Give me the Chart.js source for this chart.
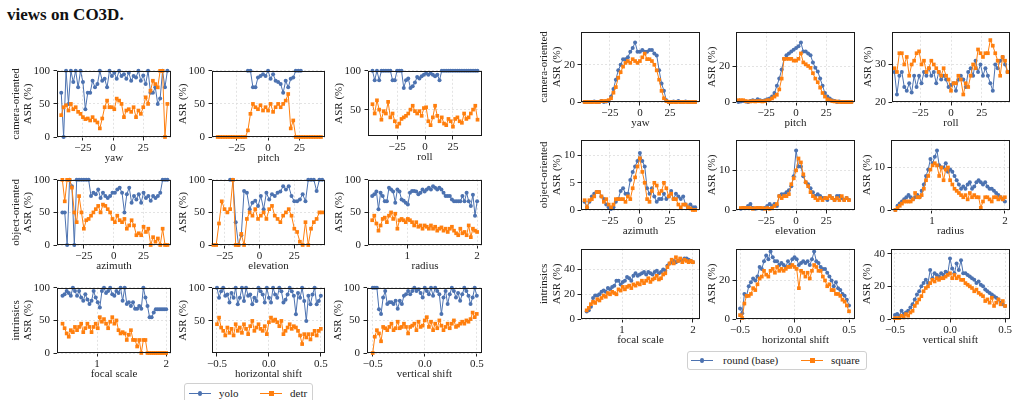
<!DOCTYPE html>
<html>
<head>
<meta charset="utf-8">
<script src="https://cdn.jsdelivr.net/npm/chart.js@4.4.1/dist/chart.umd.min.js"></script>
<style>
  body { margin: 0; width: 1018px; height: 400px; overflow: hidden; position: relative; background: #fff;
         font-family: 'Liberation Serif', 'DejaVu Serif', serif; color: #222; }
  canvas { position: absolute; }
  .titulo { position: absolute; left: 7px; top: 6px; font-size: 17px; font-weight: bold; line-height: 17px; color: #111; }
  .legend { position: absolute; background: #fff; border: 1px solid #d0d0d0; border-radius: 3px; font-size: 11px; }
  .legend i { position: absolute; display: block; }
  .legend span { position: absolute; line-height: 12px; white-space: nowrap; }
</style>
</head>
<body>
<div class="titulo">views on CO3D.</div>

<div class="legend" style="left:184px;top:383px;width:127px;height:24px">
  <i style="left:4px;top:8.5px;width:22px;height:1.2px;background:#4c72b0"></i>
  <i style="left:12.5px;top:7px;width:4.5px;height:4.5px;border-radius:50%;background:#4c72b0"></i>
  <span style="left:34px;top:3px">yolo</span>
  <i style="left:75px;top:8.5px;width:22px;height:1.2px;background:#ff7f0e"></i>
  <i style="left:83.5px;top:6.5px;width:5px;height:5px;background:#ff7f0e"></i>
  <span style="left:105px;top:3px">detr</span>
</div>

<div class="legend" style="left:687px;top:351px;width:178px;height:17px">
  <i style="left:3px;top:7.5px;width:22px;height:1.2px;background:#4c72b0"></i>
  <i style="left:11.5px;top:6px;width:4.5px;height:4.5px;border-radius:50%;background:#4c72b0"></i>
  <span style="left:35px;top:2px">round (base)</span>
  <i style="left:113px;top:7.5px;width:22px;height:1.2px;background:#ff7f0e"></i>
  <i style="left:121.5px;top:5.5px;width:5px;height:5px;background:#ff7f0e"></i>
  <span style="left:143px;top:2px">square</span>
</div>

<script>
// ---- eixos x (valores de cada experimento) ----
const angleX = [-43,-41,-39,-37,-35,-33,-31,-29,-27,-25,-23,-21,-19,-17,-15,-13,-11,-9,-7,-5,-3,-1,1,3,5,7,9,11,13,15,17,19,21,23,25,27,29,31,33,35,37,39,41,43,45];
const pitchX = [-40,-38,-36,-34,-32,-30,-28,-26,-24,-22,-20,-18,-16,-14,-12,-10,-8,-6,-4,-2,0,2,4,6,8,10,12,14,16,18,20,22,24,26,28,30,32,34,36,38,40,42];
const rollX = [-47,-45,-43,-41,-39,-37,-35,-33,-31,-29,-27,-25,-23,-21,-19,-17,-15,-13,-11,-9,-7,-5,-3,-1,1,3,5,7,9,11,13,15,17,19,21,23,25,27,29,31,33,35,37,39,41,43,45,47];
const elevX = [-33,-31,-29,-27,-25,-23,-21,-19,-17,-15,-13,-11,-9,-7,-5,-3,-1,1,3,5,7,9,11,13,15,17,19,21,23,25,27,29,31,33,35,37,39,41,43,45];
const scaleX = [0.5,0.53,0.56,0.59,0.62,0.65,0.68,0.71,0.74,0.77,0.8,0.83,0.86,0.89,0.92,0.95,0.98,1.01,1.04,1.07,1.1,1.13,1.16,1.19,1.22,1.25,1.28,1.31,1.34,1.37,1.4,1.43,1.46,1.49,1.52,1.55,1.58,1.61,1.64,1.67,1.7,1.73,1.76,1.79,1.82,1.85,1.88,1.91,1.94,1.97,2.0];
const shiftX = [-0.5,-0.48,-0.46,-0.44,-0.42,-0.4,-0.38,-0.36,-0.34,-0.32,-0.3,-0.28,-0.26,-0.24,-0.22,-0.2,-0.18,-0.16,-0.14,-0.12,-0.1,-0.08,-0.06,-0.04,-0.02,0,0.02,0.04,0.06,0.08,0.1,0.12,0.14,0.16,0.18,0.2,0.22,0.24,0.26,0.28,0.3,0.32,0.34,0.36,0.38,0.4,0.42,0.44,0.46,0.48,0.5];
const angleXR = [-46,-44,-42,-40,-38,-36,-34,-32,-30,-28,-26,-24,-22,-20,-18,-16,-14,-12,-10,-8,-6,-4,-2,0,2,4,6,8,10,12,14,16,18,20,22,24,26,28,30,32,34,36,38,40,42,44,46];
const pitchXR = [-48,-46,-44,-42,-40,-38,-36,-34,-32,-30,-28,-26,-24,-22,-20,-18,-16,-14,-12,-10,-8,-6,-4,-2,0,2,4,6,8,10,12,14,16,18,20,22,24,26,28,30,32,34,36,38,40,42,44,46];
const elevXR = [-46,-44,-42,-40,-38,-36,-34,-32,-30,-28,-26,-24,-22,-20,-18,-16,-14,-12,-10,-8,-6,-4,-2,0,2,4,6,8,10,12,14,16,18,20,22,24,26,28,30,32,34,36,38,40,42,44];

// ---- grupo da esquerda: yolo x detr (ASR %) ----
const yawYolo = [67,0,100,50,100,83,100,75,100,83,42,67,67,85,75,80,100,85,88,75,100,92,97,88,100,92,95,88,97,85,92,90,100,85,93,80,100,67,67,75,50,58,100,75,100];
const yawDetr = [33,45,48,40,50,42,45,38,35,30,27,28,25,30,25,22,13,28,45,55,45,45,42,58,55,50,30,40,42,38,45,30,40,35,45,60,50,70,85,80,75,100,100,0,50];
const pitchYolo = [null,null,null,null,null,null,null,null,null,null,null,null,100,100,75,75,90,92,95,92,100,88,95,85,83,80,67,85,75,88,90,100,100,100,null,null,null,null,null,null,null,null];
const pitchDetr = [0,0,0,0,0,0,0,0,0,0,0,0,10,35,50,45,42,48,40,45,40,50,38,45,50,45,50,55,65,13,25,0,0,0,0,0,0,0,0,0,0,0];
const rollYolo = [100,88,100,88,100,100,100,100,100,88,88,100,100,100,78,88,90,78,80,85,92,90,93,95,97,95,97,95,93,95,88,100,100,100,100,100,100,100,100,100,100,100,100,100,100,100,100,100];
const rollDetr = [57,45,62,50,37,48,45,60,40,45,35,28,32,38,40,42,45,50,55,48,45,48,42,52,53,35,30,40,55,42,35,40,32,30,38,35,28,38,40,35,33,45,38,40,45,50,55,37];
const azimuthYolo = [50,50,0,100,90,0,100,100,100,100,100,100,75,80,78,85,72,80,75,72,75,80,80,85,88,80,50,78,88,65,75,70,78,65,80,72,75,68,75,72,75,80,100,100,100];
const azimuthDetr = [100,67,100,100,88,50,35,75,50,25,38,40,45,50,55,60,50,62,60,55,50,40,35,45,38,35,40,25,30,38,30,15,18,15,28,20,25,0,12,5,10,0,25,0,0];
const elevationYolo = [null,null,null,null,null,null,100,100,35,0,15,83,80,55,65,68,60,75,55,80,70,78,75,80,82,90,85,90,75,67,67,70,78,67,100,100,100,83,100,100];
const elevationDetr = [0,0,33,67,55,50,55,100,0,0,17,0,40,50,45,55,40,45,50,40,55,60,45,40,35,45,50,55,45,25,20,5,0,35,0,25,35,40,50,50];
const radiusYolo = [75,78,82,55,80,75,67,67,88,85,82,65,85,82,70,68,65,62,80,83,83,82,78,80,85,82,85,88,85,90,88,85,88,85,80,75,75,75,70,67,67,67,67,75,67,80,67,60,77,45,67];
const radiusDetr = [38,45,33,22,30,40,42,35,45,50,40,48,25,38,40,38,35,40,38,35,30,35,28,30,25,30,28,25,30,25,28,22,25,27,22,25,20,25,28,22,18,15,25,18,20,15,30,12,25,22,20];
const focalYolo = [88,90,95,92,88,100,95,88,95,85,80,90,82,75,80,95,85,78,70,95,100,92,95,100,90,88,95,92,100,80,100,75,78,72,78,68,68,72,68,100,85,72,55,55,62,67,67,67,67,67,67];
const focalDetr = [45,38,30,25,35,32,40,35,40,45,32,38,45,40,32,40,45,38,55,48,52,45,38,48,55,45,50,35,30,32,30,20,28,35,20,20,10,20,0,20,20,0,0,0,0,0,0,0,0,0,0];
const hshiftYolo = [100,85,95,100,88,90,78,92,85,100,75,85,100,80,100,88,90,75,85,80,100,95,90,78,100,85,78,100,90,85,100,95,78,82,90,100,95,88,60,92,85,100,80,50,88,75,90,100,75,80,88];
const hshiftDetr = [45,55,40,35,28,40,32,38,28,45,35,40,32,45,38,30,42,50,35,40,45,38,35,42,30,48,55,50,52,48,42,50,30,35,40,45,38,42,40,35,28,15,30,25,30,22,30,35,28,35,38];
const vshiftYolo = [100,100,100,67,60,85,95,75,78,78,75,80,68,80,75,88,90,95,90,95,100,95,98,92,85,100,95,90,100,88,100,95,90,60,85,95,75,90,100,95,85,92,80,90,100,95,88,75,85,100,88];
const vshiftDetr = [0,25,35,30,18,40,38,35,40,45,35,38,48,38,40,45,40,30,40,42,45,35,48,40,42,50,55,40,48,35,45,38,50,42,35,40,45,38,45,50,40,42,45,48,45,50,48,52,62,55,60];

// ---- grupo da direita: round (base) x square (ASR %) ----
const yawRound = [0,0,0,0,0.3,0,0,0.5,0,0.3,0.5,3,7,12,17,20,23,23,24,27,29,32,27,27,28,27,27,28,28,26,25,17,10,6,1,0,0,0.3,0,0.5,0,0,0.3,0,0,0,0];
const yawSquare = [0,0,0,0,0,0,0,0.5,0.5,0.5,1,2,5,8,13,16,19,21,22,21,23,22,21,22,24,26,23,23,22,20,17,12,6,2,0.5,0,0,0,0,0,0,0,0,0,0,0,0];
const pitchRound = [0,0.3,0.5,0.3,0,0.5,1,0.5,1.5,1,0.5,1,1.5,2,3,5,9,13,18,24,26,27,28,29,30,31,33,28,28,27,26,22,19,17,13,9,5,3,2,1,0.5,0,0.3,0,0,0,0,0];
const pitchSquare = [1,1,1,0.5,0.3,0.3,0.5,0.3,0.5,0.5,0.3,0.5,1,1,2,3,4,7,13,24,24,24,24,23,23,24,27,22,21,20,19,16,13,11,8,5,3,1.5,1,0.5,0.3,0.3,0,0,0,0,0,0];
const rollRound = [28,22,27,28,24,23,25,22.5,27,24,27,25,28,27,29,27,28,25,28,26,27,26,24,24.5,25,23,26,27,26,24,28,29,27,31,28,30,27,29,27,25,23,30,29,31,32,30,28];
const rollSquare = [29,28,33,33,30,32,27,30,31,33,33.5,30,31,28,29,31,30,29,28,27,29,27,26,23,25,25,27,26,22,25,24,27,30,29,34,33,32,33,33,36.5,35,33,31,27,32,31,28];
const azimuthRound = [1.5,0.5,1.5,2.5,3,3.3,3.3,2.5,2,1,0.5,0.2,0.5,1.5,2,3.5,4,3,3,5.5,7,8,9,10.5,9,8,4,3,4,2.5,1.5,2,2,3,2,2.5,3.5,2,3,2.5,2,2.5,1,0.5,1,0.5,0.5];
const azimuthSquare = [1.8,0.5,1.8,2,2.5,3.3,3.3,2.5,1.5,2,1,0.5,1,2,2,2,2,1.5,2.5,2,4,6,8,9.5,7,5,2,1.5,3.5,5,4.5,3,3.5,5,4,2.5,3,2,2,1,0.5,1,1,0.5,0.3,0,0];
const elevationRound = [0.3,0.5,0.5,1,1.5,0.5,0.3,0.5,0.5,0.3,0.5,1,1.5,1,1.5,1,3.5,4,4,4.5,5,6,8.5,15,11,11,8.5,7,6.5,5.5,4.5,3.5,4,3.5,3,3,2.5,3.5,3,2.5,3.5,3.5,3,2.5,3,2.5];
const elevationSquare = [0.5,0.5,0.5,0.5,0.5,0.3,0.5,0.5,0.5,0.5,0.3,0.5,0.3,0.5,1,1.5,3.5,3,3.5,3.5,4,6.5,8,10,13,12,9,7,6,4.5,3.5,3,2.5,3,2.5,3,3,3.5,3,2.5,3,2.5,3.5,2.5,3,2.5];
const radiusRound = [0,1,1.5,2,2.5,3,3.5,3,2.5,3,3.5,3,4.5,6,8,9.5,12,11,12.5,14,10.5,10,10,11,9,9.5,9,8,7,6,5,5.5,5,6,6.5,5,5.5,6.5,7,6.5,6,6.5,5.5,5,5,4.5,4,3.5,3,2.5,2];
const radiusSquare = [0,0.5,1,1.5,2,2,2,2,2.5,4,3,3,3.5,5,7,8,9.5,10.5,11,10.5,8,10,7,9.5,10,7,6,5,4.5,4,3.5,3,3.5,2.5,4,3,3.5,3,3,0.5,2,3,3,2.5,2,3,3,2.5,3,2.5,3];
const focalRound = [6,7,10,17,19,19,20,22,23,22,25,24,26,27,31,31,28,30,31,34,33,31,35,37,35,36,37,38,36,38,37,36,38,39,37,38,40,39,43,45,46,47,46,47,48,47,49,49,48,47,46];
const focalSquare = [7,9,12,14,13,16,15,17,19,18,21,20,22,21,20,24,23,26,24,26,27,25,28,27,29,28,31,29,31,33,30,32,33,35,32,33,36,37,42,45,48,45,50,47,49,46,48,47,46,47,46];
const hshiftRound = [5.5,3,13,12,17,19,21,20,22,27,26,30,33,31,35,32,30,30,28,29,28,27,30,28,31,32,31,28,29,30,29,30,28,31,35,30,29,27,26,26,24,22,20,17,19,16,15,13,12,10,7];
const hshiftSquare = [2,0.5,8,12,12,13,16,15,18,21,22,25,23,22,25,26,24,27,25,26,25,26,27,27,28,27,26,16,25,24,22,24,21,25,28,27,25,25,22,20,17,18,15,15,13,13,12,10,9,7,4];
const vshiftRound = [2.5,3,2,5,3,4,5,7,9,12,15,17,20,22,24,22,30,25,28,27,26,28,27,29,28,37,31,28,34,30,36,28,28,27,26,25,24,22,23,21,20,18,17,16,15,14,13,12,10,9,8];
const vshiftSquare = [0.5,0.5,0.5,2,1,3,2,4,5,8,10,12,14,17,19,20,22,24,23,25,24,25,25,26,27,28,25,27,25,26,24,24,22,21,20,19,17,18,16,15,14,11,12,10,13,8,10,12,9,11,8];

// ---- tick labels ----
const angleTicks = [-25, 0, 25];
const scaleTicks = [1, 2];
const shiftTicks = [-0.5, 0, 0.5];

const BLUE = '#4c72b0';
const ORANGE = '#ff7f0e';
const INK = '#222';
const GRID = '#dcdcdc';
const FONT = { family: "'Liberation Serif', 'DejaVu Serif', serif", size: 11, lineHeight: 1.15 };
const LH = 11 * 1.15;

Chart.defaults.font.family = FONT.family;
Chart.defaults.color = INK;

// moldura preta em volta da area do grafico (como no matplotlib)
const framePlugin = {
  id: 'frame',
  afterDatasetsDraw(chart) {
    const a = chart.chartArea;
    const ctx = chart.ctx;
    ctx.save();
    ctx.strokeStyle = '#1a1a1a';
    ctx.lineWidth = 1;
    ctx.strokeRect(Math.round(a.left) + 0.5, Math.round(a.top) + 0.5,
                   Math.round(a.right - a.left) - 1, Math.round(a.bottom - a.top) - 1);
    ctx.restore();
  }
};

function fmt(v, digits) {
  return v.toFixed(digits).replace('-', '\u2212');
}

function serie(xs, ys, color, style, radius, order) {
  return {
    data: xs.map((x, i) => ({ x: x, y: ys[i] })),
    borderColor: color,
    backgroundColor: color,
    borderWidth: 1,
    pointStyle: style,
    pointRadius: radius,
    pointBackgroundColor: color,
    pointBorderWidth: 0,
    tension: 0,
    spanGaps: false,
    clip: false,
    order: order
  };
}

function drawPanel(p) {
  const padTop = 8, padRight = 8, xH = 30;
  const yTitle = Array.isArray(p.yTitle) ? p.yTitle : [p.yTitle];
  const titlePad = p.yW - p.titleDist - LH / 2 - (yTitle.length - 1) * LH;

  const canvas = document.createElement('canvas');
  canvas.width = p.yW + p.w + padRight;
  canvas.height = padTop + p.h + xH;
  canvas.style.left = (p.x - p.yW) + 'px';
  canvas.style.top = (p.y - padTop) + 'px';
  document.body.appendChild(canvas);

  const gridOpts = { color: GRID, lineWidth: 0.8, tickLength: 3.5, tickColor: INK, tickWidth: 1 };
  const borderOpts = { display: false, dash: [2, 2] };

  new Chart(canvas.getContext('2d'), {
    type: 'line',
    data: {
      datasets: [
        serie(p.xs, p.a, BLUE, 'circle', 2, 1),
        serie(p.xs, p.b, ORANGE, 'rect', 2.6, 0)
      ]
    },
    options: {
      responsive: false,
      animation: false,
      devicePixelRatio: 1,
      layout: { padding: { top: padTop, right: padRight, left: 0, bottom: 0 } },
      plugins: { legend: { display: false }, tooltip: { enabled: false } },
      scales: {
        x: {
          type: 'linear',
          min: p.xMin,
          max: p.xMax,
          afterBuildTicks: s => { s.ticks = p.xTicks.map(v => ({ value: v })); },
          afterFit: s => { s.height = xH; },
          ticks: { autoSkip: false, maxRotation: 0, padding: 1, color: INK, font: FONT,
                   callback: v => fmt(v, p.xDigits) },
          grid: gridOpts,
          border: borderOpts,
          title: { display: true, text: p.xTitle, color: INK, font: FONT, padding: { top: 0, bottom: 2.4 } }
        },
        y: {
          type: 'linear',
          min: p.yMin,
          max: p.yMax,
          afterBuildTicks: s => { s.ticks = p.yTicks.map(v => ({ value: v })); },
          afterFit: s => { s.width = p.yW; },
          ticks: { autoSkip: false, padding: p.tickPad, color: INK, font: FONT, callback: v => String(v) },
          grid: gridOpts,
          border: borderOpts,
          title: { display: true, text: yTitle, color: INK, font: FONT, padding: { top: titlePad, bottom: 0 } }
        }
      }
    },
    plugins: [framePlugin]
  });
}

const L = { titleDist: 28.5, tickPad: 3.5 };
const R = { titleDist: 24, tickPad: 2.5 };

const panels = [
  // esquerda
  { g: L, yW: 50, x: 57,  y: 69,  w: 114, h: 68, xs: angleX, a: yawYolo, b: yawDetr, xMin: -46.5, xMax: 48, xTicks: angleTicks, xDigits: 0, yMin: 0, yMax: 100, yTicks: [0, 50, 100], xTitle: 'yaw', yTitle: ['camera-oriented', 'ASR (%)'] },
  { g: L, yW: 40, x: 212, y: 69,  w: 113, h: 68, xs: pitchX, a: pitchYolo, b: pitchDetr, xMin: -44.5, xMax: 45.2, xTicks: angleTicks, xDigits: 0, yMin: 0, yMax: 100, yTicks: [0, 50, 100], xTitle: 'pitch', yTitle: 'ASR (%)' },
  { g: L, yW: 40, x: 368, y: 69,  w: 114, h: 67, xs: rollX, a: rollYolo, b: rollDetr, xMin: -51, xMax: 51, xTicks: angleTicks, xDigits: 0, yMin: 16, yMax: 100, yTicks: [50, 100], xTitle: 'roll', yTitle: 'ASR (%)' },
  { g: L, yW: 50, x: 57,  y: 178, w: 114, h: 67, xs: angleX, a: azimuthYolo, b: azimuthDetr, xMin: -47.5, xMax: 48, xTicks: angleTicks, xDigits: 0, yMin: 0, yMax: 100, yTicks: [0, 50, 100], xTitle: 'azimuth', yTitle: ['object-oriented', 'ASR (%)'] },
  { g: L, yW: 40, x: 212, y: 178, w: 113, h: 67, xs: elevX, a: elevationYolo, b: elevationDetr, xMin: -34, xMax: 47, xTicks: angleTicks, xDigits: 0, yMin: 0, yMax: 100, yTicks: [0, 50, 100], xTitle: 'elevation', yTitle: 'ASR (%)' },
  { g: L, yW: 40, x: 368, y: 178, w: 114, h: 67, xs: scaleX, a: radiusYolo, b: radiusDetr, xMin: 0.44, xMax: 2.07, xTicks: scaleTicks, xDigits: 0, yMin: 0, yMax: 100, yTicks: [0, 50, 100], xTitle: 'radius', yTitle: 'ASR (%)' },
  { g: L, yW: 50, x: 57,  y: 286, w: 114, h: 67, xs: scaleX, a: focalYolo, b: focalDetr, xMin: 0.42, xMax: 2.07, xTicks: scaleTicks, xDigits: 0, yMin: 0, yMax: 100, yTicks: [0, 50, 100], xTitle: 'focal scale', yTitle: ['intrinsics', 'ASR (%)'] },
  { g: L, yW: 40, x: 212, y: 286, w: 113, h: 67, xs: shiftX, a: hshiftYolo, b: hshiftDetr, xMin: -0.548, xMax: 0.54, xTicks: shiftTicks, xDigits: 1, yMin: 1.5, yMax: 100, yTicks: [50, 100], xTitle: 'horizontal shift', yTitle: 'ASR (%)' },
  { g: L, yW: 40, x: 367, y: 286, w: 115, h: 67, xs: shiftX, a: vshiftYolo, b: vshiftDetr, xMin: -0.555, xMax: 0.55, xTicks: shiftTicks, xDigits: 1, yMin: 0, yMax: 100, yTicks: [0, 50, 100], xTitle: 'vertical shift', yTitle: 'ASR (%)' },
  // direita
  { g: R, yW: 46, x: 581, y: 31,  w: 119, h: 71, xs: angleXR, a: yawRound, b: yawSquare, xMin: -49, xMax: 50, xTicks: angleTicks, xDigits: 0, yMin: 0, yMax: 37.7, yTicks: [0, 20], xTitle: 'yaw', yTitle: ['camera-oriented', 'ASR (%)'] },
  { g: R, yW: 36, x: 736, y: 31,  w: 119, h: 71, xs: pitchXR, a: pitchRound, b: pitchSquare, xMin: -50, xMax: 49, xTicks: angleTicks, xDigits: 0, yMin: 0, yMax: 39, yTicks: [0, 20], xTitle: 'pitch', yTitle: 'ASR (%)' },
  { g: R, yW: 36, x: 892, y: 31,  w: 118, h: 71, xs: angleXR, a: rollRound, b: rollSquare, xMin: -48, xMax: 48, xTicks: angleTicks, xDigits: 0, yMin: 20, yMax: 38.7, yTicks: [20, 30], xTitle: 'roll', yTitle: 'ASR (%)' },
  { g: R, yW: 46, x: 581, y: 139, w: 119, h: 71, xs: angleXR, a: azimuthRound, b: azimuthSquare, xMin: -49, xMax: 50, xTicks: angleTicks, xDigits: 0, yMin: 0, yMax: 12.9, yTicks: [0, 5, 10], xTitle: 'azimuth', yTitle: ['object-oriented', 'ASR (%)'] },
  { g: R, yW: 36, x: 736, y: 139, w: 119, h: 71, xs: elevXR, a: elevationRound, b: elevationSquare, xMin: -50, xMax: 49, xTicks: angleTicks, xDigits: 0, yMin: 0, yMax: 17.7, yTicks: [0, 10], xTitle: 'elevation', yTitle: 'ASR (%)' },
  { g: R, yW: 36, x: 891, y: 139, w: 119, h: 71, xs: scaleX, a: radiusRound, b: radiusSquare, xMin: 0.44, xMax: 2.07, xTicks: scaleTicks, xDigits: 0, yMin: 0, yMax: 16.5, yTicks: [0, 10], xTitle: 'radius', yTitle: 'ASR (%)' },
  { g: R, yW: 46, x: 581, y: 248, w: 119, h: 71, xs: scaleX, a: focalRound, b: focalSquare, xMin: 0.42, xMax: 2.1, xTicks: scaleTicks, xDigits: 0, yMin: 0, yMax: 56.8, yTicks: [0, 20, 40], xTitle: 'focal scale', yTitle: ['intrinsics', 'ASR (%)'] },
  { g: R, yW: 36, x: 736, y: 248, w: 119, h: 71, xs: shiftX, a: hshiftRound, b: hshiftSquare, xMin: -0.537, xMax: 0.555, xTicks: shiftTicks, xDigits: 1, yMin: 0, yMax: 36.4, yTicks: [0, 20], xTitle: 'horizontal shift', yTitle: 'ASR (%)' },
  { g: R, yW: 36, x: 891, y: 248, w: 119, h: 71, xs: shiftX, a: vshiftRound, b: vshiftSquare, xMin: -0.536, xMax: 0.545, xTicks: shiftTicks, xDigits: 1, yMin: 0, yMax: 43, yTicks: [0, 20, 40], xTitle: 'vertical shift', yTitle: 'ASR (%)' }
];

panels.forEach(p => drawPanel(Object.assign({ titleDist: p.g.titleDist, tickPad: p.g.tickPad }, p)));
</script>
</body>
</html>
